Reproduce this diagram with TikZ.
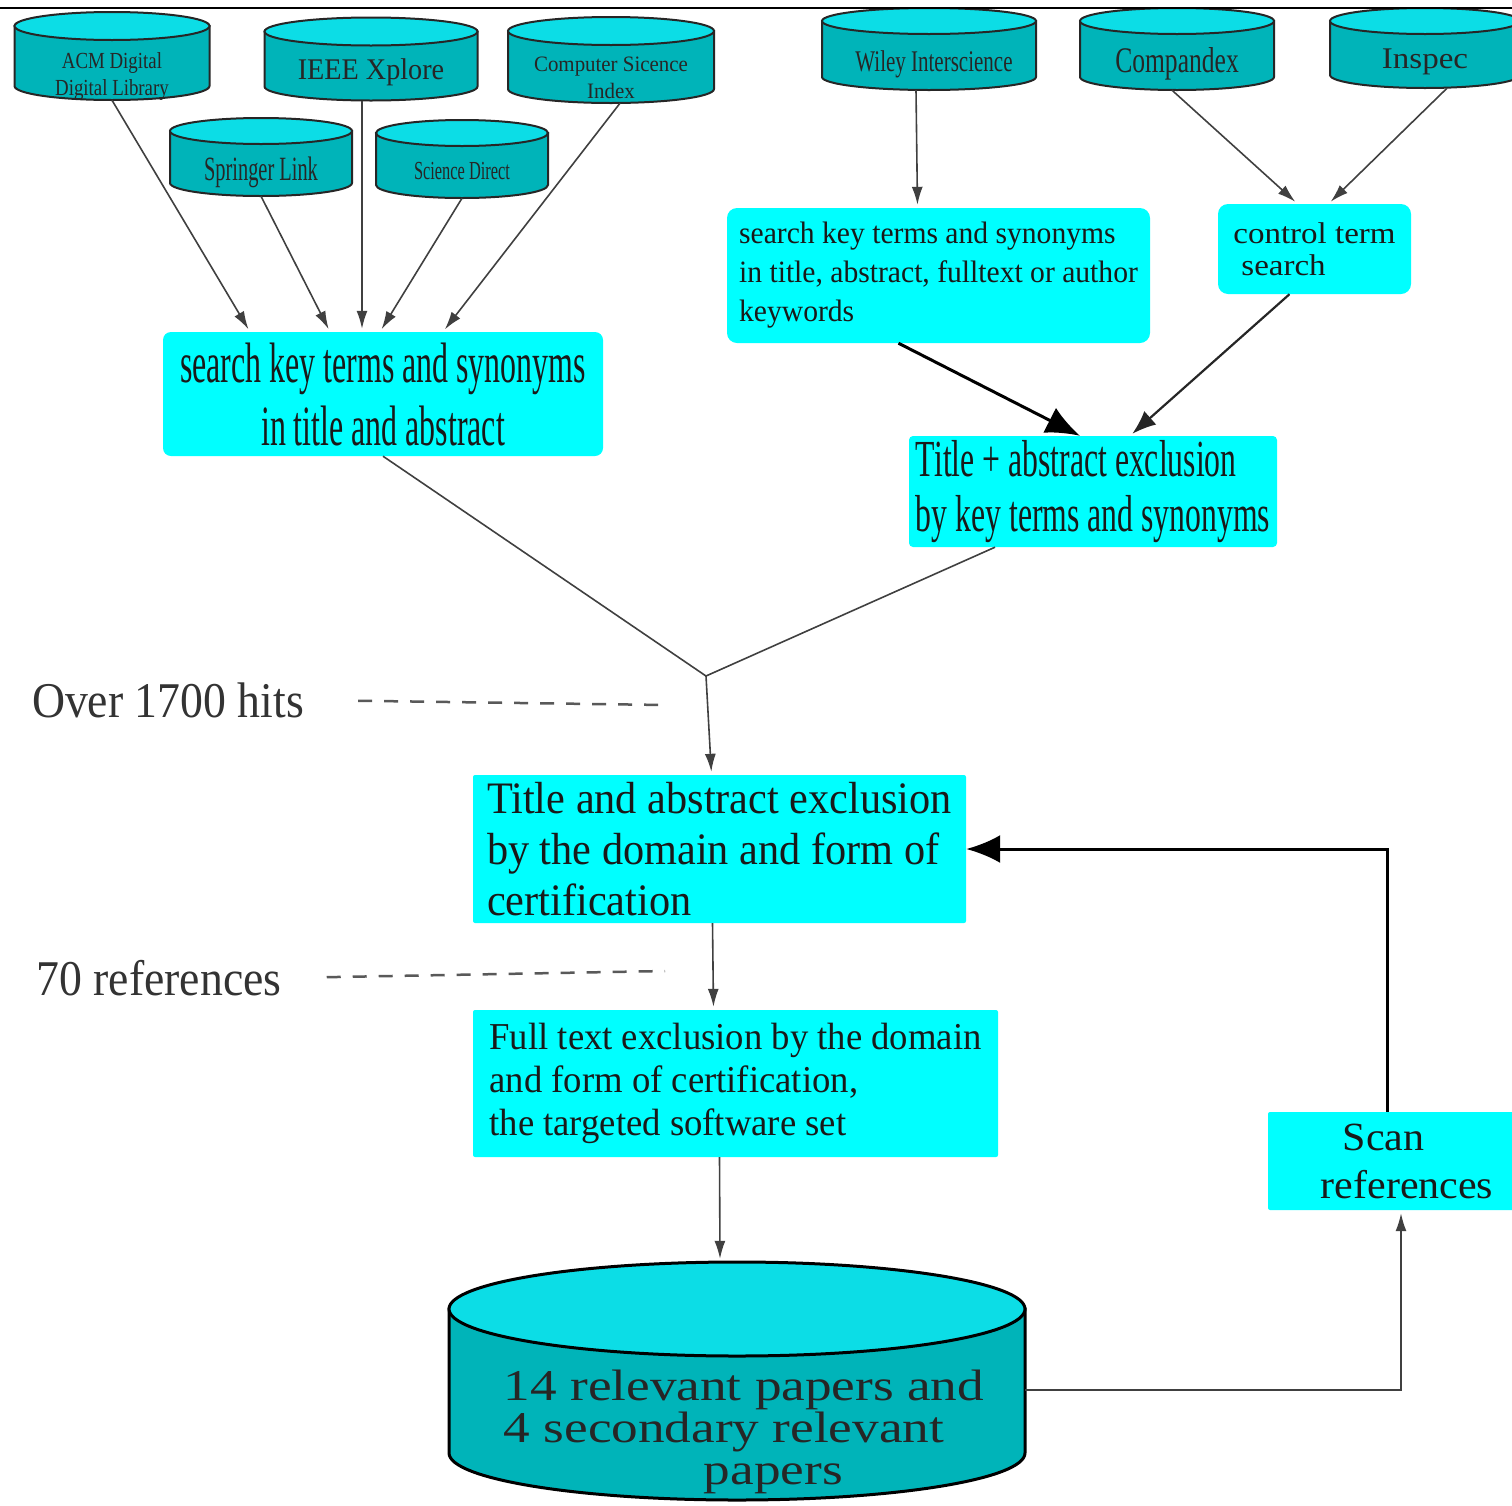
\documentclass[tikz,border=0pt]{standalone}
\usepackage{fontspec}
\setmainfont{Liberation Serif}
\usepackage{tikz}
\usetikzlibrary{arrows.meta}
\usetikzlibrary{positioning, backgrounds}
\definecolor{boxcyan}{RGB}{0,255,255}
\definecolor{dbtop}{RGB}{12,221,230}
\definecolor{dbbody}{RGB}{0,180,185}
\colorlet{myline}{black!75}
\newcommand\tfont[3]{\fontsize{#1}{#3}\addfontfeatures{FakeStretch=#2}}
% cylinder drawn behind a named node: [style], node, half width, half height, cap radius
\newcommand\dbdraw[5][]{%
  \begin{scope}[on background layer, shift={(#2.center)}, x=1pt, y=1pt]
    \filldraw[dbside, #1] (-#3,#4-#5) -- (-#3,-#4+#5)
      arc[start angle=180, end angle=360, x radius=#3, y radius=#5] -- (#3,#4-#5) -- cycle;
    \filldraw[dbend, #1] (0,#4-#5) ellipse[x radius=#3, y radius=#5];
  \end{scope}}
\tikzset{
  >=latex, % default arrow head
  box/.style={fill=boxcyan, inner sep=0pt, rounded corners=4pt, text=black!90},
  db/.style={inner sep=0pt},
  dbside/.style={fill=dbbody, draw=black!85, line width=2pt},
  dbend/.style={fill=dbtop, draw=black!85, line width=2pt},
  dbtext/.style={align=center, text=black!85, inner sep=0pt},
  connect/.style={line width=1.6pt, myline},
  connect arrow/.style={-{Latex[length=18pt,width=11pt]}, line width=1.6pt, myline, shorten >=3pt},
  mid arrow/.style={-{Latex[length=24pt,width=18pt]}, line width=2.2pt, black!85, shorten >=3pt},
  big arrow/.style={-{Latex[length=34pt,width=28pt]}, line width=3pt, black},
  tallytext/.style={text=black!80, inner sep=0pt, font=\tfont{50}{0.915}{60}},
  tallyline/.style={dash pattern=on 14pt off 12pt, line width=2.5pt, black!65}
}

\begin{document}
\begin{tikzpicture}[x=1pt, y=-1pt]
  \useasboundingbox (0,0) rectangle (1512,1505);

  % source databases
  \node[db, minimum width=195pt, minimum height=88pt,
    label={[dbtext, name=acmtxt, yshift=-20pt, font=\tfont{23}{0.82}{27}]center:{ACM Digital\\Digital Library}}] (acm) at (112,56) {};
  \node[db, minimum width=213pt, minimum height=83pt,
    label={[dbtext, name=ieeetxt, yshift=-13pt, font=\tfont{30}{0.94}{36}]center:{IEEE Xplore}}] (ieee) at (371,59) {};
  \node[db, minimum width=206pt, minimum height=86pt,
    label={[dbtext, name=csitxt, yshift=-18pt, font=\tfont{22}{0.95}{27}]center:{Computer Sicence\\Index}}] (csi) at (611,60) {};
  \node[db, minimum width=182pt, minimum height=78pt,
    label={[dbtext, name=sprtxt, yshift=-15pt, font=\tfont{34}{0.6}{40}]center:{Springer Link}}] (spr) at (261,157) {};
  \node[db, minimum width=172pt, minimum height=78pt,
    label={[dbtext, name=scdtxt, yshift=-12pt, font=\tfont{26}{0.63}{30}]center:{Science Direct}}] (scd) at (462,159) {};
  \node[db, minimum width=214pt, minimum height=82pt,
    label={[dbtext, name=wileytxt, xshift=5pt, yshift=-15pt, font=\tfont{30}{0.7}{36}]center:{Wiley Interscience}}] (wiley) at (929,49) {};
  \node[db, minimum width=194pt, minimum height=82pt,
    label={[dbtext, name=comptxt, yshift=-15pt, font=\tfont{36}{0.71}{40}]center:{Compandex}}] (comp) at (1177,49) {};
  \node[db, minimum width=190pt, minimum height=80pt,
    label={[dbtext, name=insptxt, yshift=-14pt, font=\tfont{30}{1.1}{36}]center:{Inspec}}] (insp) at (1425,48) {};

  \dbdraw{acm}{97.5}{44}{14}
  \dbdraw{ieee}{106.5}{41.5}{14}
  \dbdraw{csi}{103}{43}{14}
  \dbdraw{spr}{91}{39}{13}
  \dbdraw{scd}{86}{39}{13}
  \dbdraw{wiley}{107}{41}{13}
  \dbdraw{comp}{97}{41}{13}
  \dbdraw{insp}{95}{40}{13}

  % search steps
  \node[box, rounded corners=8pt, minimum width=440pt, minimum height=124pt, align=center,
    font=\tfont{57}{0.56}{63}] (srch1) at (383,394) {search key terms and synonyms\\in title and abstract};
  \node[box, rounded corners=10pt, minimum width=423pt, minimum height=135pt, align=flush left,
    font=\tfont{31}{0.955}{39}] (srch2) at (938.5,275.5) {search key terms and synonyms\\in title, abstract, fulltext or author\\keywords};
  \node[box, rounded corners=10pt, minimum width=193pt, minimum height=90pt, align=flush left,
    font=\tfont{30}{1.1}{32}] (ctrl) at (1314.5,249) {control term\\\hspace*{8pt}search};
  \node[box, minimum width=368pt, minimum height=111pt, align=flush left,
    font=\tfont{52}{0.61}{55}] (tae) at (1093,491.5) {Title + abstract exclusion\\by key terms and synonyms};

  % exclusion steps
  \node[box, rounded corners=2pt, minimum width=493pt, minimum height=148pt, align=flush left,
    font=\tfont{45}{0.94}{51}] (tdf) at (719.5,849) {Title and abstract exclusion\\by the domain and form of\\certification};
  \node[box, rounded corners=2pt, minimum width=525pt, minimum height=147pt, align=flush left,
    font=\tfont{38}{0.965}{43}] (ftx) at (735.5,1083.5) {Full text exclusion by the domain\\and form of certification,\\the targeted software set};
  \node[box, rounded corners=2pt, minimum width=278pt, minimum height=98pt, align=flush left,
    font=\tfont{40}{1.05}{48}] (scan) at (1407,1161) {\hspace*{22pt}Scan\\references};

  \node[db, minimum width=576pt, minimum height=238pt,
    label={[dbtext, align=flush left, name=restxt, xshift=7pt, yshift=-51pt, font=\tfont{44}{1.21}{42}]center:{14 relevant papers and\\4 secondary relevant\\\hspace*{200pt}papers}}] (res) at (737,1381) {};
  \dbdraw[draw=black, line width=3pt]{res}{288}{119}{47}

  % counts
  \node[tallytext] (hits) at (168,700) {Over 1700 hits};
  \node[tallytext] (refs) at (159,978) {70 references};
  \coordinate (hitsend) at (665,705);
  \coordinate (refsend) at (665,971);
  \coordinate (jn) at (706,676);

  \draw[tallyline, shorten <=54pt] (hits.east) -- (hitsend);
  \draw[tallyline, shorten <=45pt] (refs.east) -- (refsend);

  % connections
  \draw[connect arrow] (acm.south) -- ([xshift=-133pt]srch1.north);
  \draw[connect arrow] (spr.south) -- ([xshift=-53pt]srch1.north);
  \draw[connect arrow] ([xshift=-9pt]ieee.south) -- ([xshift=-21pt]srch1.north);
  \draw[connect arrow] (scd.south) -- ([xshift=-3pt]srch1.north);
  \draw[connect arrow] ([xshift=9pt]csi.south) -- ([xshift=60pt]srch1.north);

  \draw[connect arrow] ([xshift=-13pt]wiley.south) -- ([xshift=-21pt]srch2.north);
  \draw[connect arrow] ([xshift=-5pt]comp.south) -- ([xshift=-17pt]ctrl.north);
  \draw[connect arrow] ([xshift=22pt]insp.south) -- ([xshift=14pt]ctrl.north);

  \draw[big arrow] ([xshift=-40pt]srch2.south) -- ([xshift=-13pt]tae.north);
  \draw[mid arrow] ([xshift=-25pt]ctrl.south) -- ([xshift=37pt]tae.north);

  \draw[connect] (srch1.south) -- (jn) -- ([xshift=-98pt]tae.south);
  \draw[connect arrow] (jn) -- ([xshift=-8pt]tdf.north);
  \draw[connect arrow] ([xshift=-7pt]tdf.south) -- ([xshift=-22pt]ftx.north);
  \draw[connect arrow] ([xshift=-16pt]ftx.south) -- ([xshift=-17pt]res.north);

  \draw[connect arrow] ([yshift=-9pt]res.east) -| ([xshift=-6pt]scan.south);
  \draw[big arrow] ([xshift=-20pt]scan.north) |- (tdf.east);

  \draw[line width=2pt] (0,8) -- (1512,8);
\end{tikzpicture}
\end{document}
